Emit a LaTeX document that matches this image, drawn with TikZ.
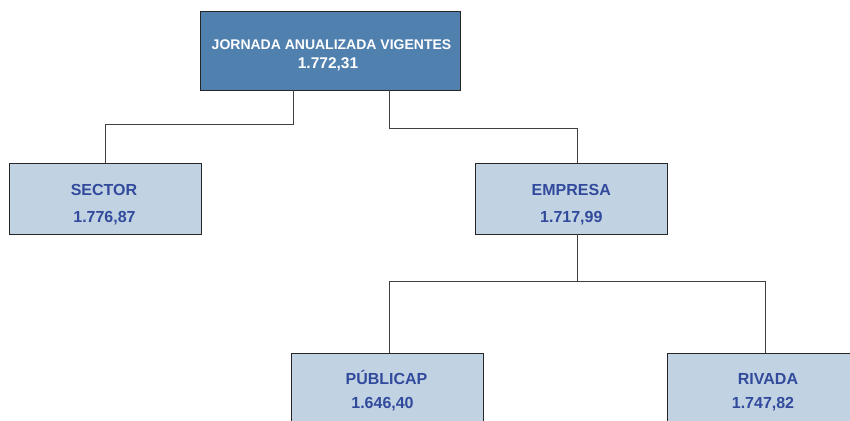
\documentclass[tikz,border=0pt]{standalone}
\usepackage{fontspec}
\setmainfont{Liberation Sans}
\definecolor{azultop}{RGB}{79,128,174}
\definecolor{azulcaja}{RGB}{193,211,227}
\definecolor{azultexto}{RGB}{50,74,156}
\tikzset{
  caja/.style={draw=black!85,line width=0.9pt,fill=azulcaja,minimum width=192pt,minimum height=71pt,inner sep=0pt},
  cajatop/.style={caja,fill=azultop,minimum width=260pt,minimum height=79pt},
  rama/.style={draw=black!75,line width=0.8pt},
  etiq/.style={anchor=base,inner sep=0pt,text=azultexto,font=\bfseries\fontsize{16}{16}\selectfont},
  etiqtop/.style={etiq,text=white,font=\bfseries\fontsize{14}{14}\selectfont},
}
\begin{document}
\begin{tikzpicture}[x=1pt,y=-1pt]
\useasboundingbox (0,0) rectangle (850,420);
\clip (0,0) rectangle (850,420);
% cajas
\node[cajatop] (jornada) at (330,50.5) {};
\node[caja] (sector) at (105,198.5) {};
\node[caja] (empresa) at (571,198.5) {};
\node[caja] (publica) at (387.5,388.5) {};
\node[caja,minimum width=210pt] (rivada) at (772,388.5) {};
% textos
\node[etiqtop] (jornadaA) at (331.5,49) {JORNADA ANUALIZADA VIGENTES};
\node[etiqtop,font=\bfseries\fontsize{15.5}{15.5}\selectfont] (jornadaB) at (328,68) {1.772,31};
\node[etiq] (sectorA) at (104,195) {SECTOR};
\node[etiq] (sectorB) at (104.5,222) {1.776,87};
\node[etiq] (empresaA) at (571.3,195) {EMPRESA};
\node[etiq] (empresaB) at (571.3,222) {1.717,99};
\node[etiq] (publicaA) at (386.5,384) {PÚBLICAP};
\node[etiq] (publicaB) at (382.5,408) {1.646,40};
\node[etiq] (rivadaA) at (768,384) {RIVADA};
\node[etiq] (rivadaB) at (763,408) {1.747,82};
% ramas
\coordinate (bifurca) at (577,281);
\draw[rama] (jornada.south -| 293,0) -- (293,124) -| (sector.north);
\draw[rama] (jornada.south -| 389,0) -- (389,128) -| (empresa.north -| bifurca);
\draw[rama] (empresa.south -| bifurca) -- (bifurca);
\draw[rama] (publica.north -| 389,0) |- (765,281) -- (rivada.north -| 765,0);
\end{tikzpicture}
\end{document}
